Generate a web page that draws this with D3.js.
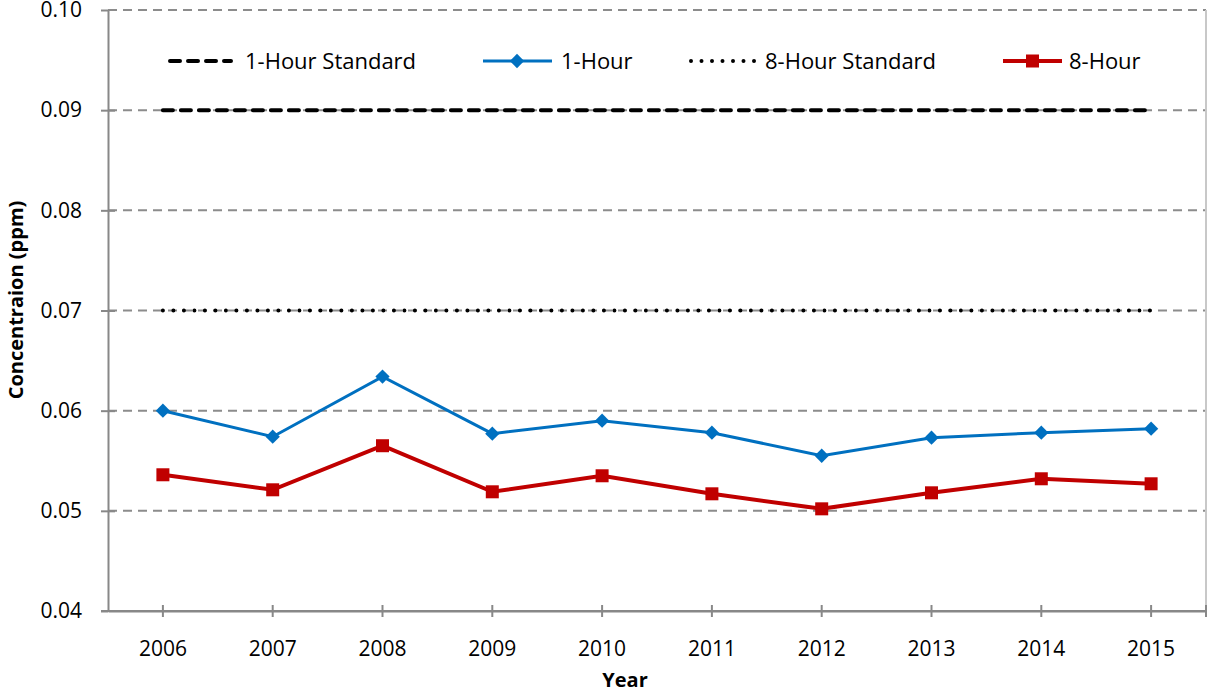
<!DOCTYPE html>
<html>
<head>
<meta charset="utf-8">
<script src="https://cdn.jsdelivr.net/npm/d3@7"></script>
<style>
  body { margin: 0; background: #fff; }
  text { font-family: "Open Sans", "Noto Sans", sans-serif; }
</style>
</head>
<body>
<script>
// chart data
let years = ['2006','2007','2008','2009','2010','2011','2012','2013','2014','2015']
let oneHour = [0.0600, 0.0574, 0.0634, 0.0577, 0.0590, 0.0578, 0.0555, 0.0573, 0.0578, 0.0582]
let eightHour = [0.0536, 0.0521, 0.0565, 0.0519, 0.0535, 0.0517, 0.0502, 0.0518, 0.0532, 0.0527]
let oneHourStd = 0.09
let eightHourStd = 0.07
let yTicks = [0.04, 0.05, 0.06, 0.07, 0.08, 0.09, 0.10]

function main(){
    let width = 1208
    let height = 690
    let margin = {top: 10, right: 2, bottom: 79, left: 108}

    let svg = d3.select('body').append('svg')
        .attr('width', width)
        .attr('height', height)

    let x = d3.scaleBand()
        .domain(years)
        .range([margin.left, width - margin.right])

    let y = d3.scaleLinear()
        .domain([0.04, 0.10])
        .range([height - margin.bottom, margin.top])

    let cx = d => x(d) + x.bandwidth()/2

    // gridlines
    svg.append('g')
        .selectAll('line')
        .data(yTicks.slice(1))
        .enter()
        .append('line')
        .attr('x1', margin.left)
        .attr('x2', width - margin.right)
        .attr('y1', d => y(d))
        .attr('y2', d => y(d))
        .attr('stroke', '#8c8c8c')
        .attr('stroke-width', 2)
        .attr('stroke-dasharray', '9,6')

    // right border
    svg.append('line')
        .attr('x1', width - margin.right).attr('x2', width - margin.right)
        .attr('y1', margin.top).attr('y2', height - margin.bottom)
        .attr('stroke', '#c8c8c8').attr('stroke-width', 2)

    // y axis
    let yAxis = svg.append('g')
        .attr('transform', 'translate(' + margin.left + ',0)')
        .call(d3.axisLeft(y).tickValues(yTicks).tickFormat(d3.format('.2f')).tickSizeInner(7).tickSizeOuter(0).tickPadding(19))
    yAxis.selectAll('text').attr('font-size', 21).attr('fill', '#000')
    yAxis.selectAll('line').attr('stroke', '#888').attr('stroke-width', 2).attr('x2', -7)
    yAxis.selectAll('.tick').filter(d => d !== 0.10 && d !== 0.04).select('line').attr('x2', 7).attr('x1', -7)
    yAxis.select('.domain').attr('stroke', '#888').attr('stroke-width', 2)

    // x axis
    let xAxis = svg.append('g')
        .attr('transform', 'translate(0,' + (height - margin.bottom) + ')')
        .call(d3.axisBottom(x).tickSizeInner(6).tickSizeOuter(0).tickPadding(24))
    xAxis.selectAll('text').attr('font-size', 21).attr('fill', '#000')
    xAxis.selectAll('.tick line').attr('stroke', '#888').attr('stroke-width', 2).attr('y1', -6)
    xAxis.select('.domain').attr('stroke', '#888').attr('stroke-width', 2)
    // axis extension to the left and tick at right edge
    xAxis.append('line')
        .attr('x1', margin.left - 7).attr('x2', width - margin.right)
        .attr('stroke', '#888').attr('stroke-width', 2)
    xAxis.append('line')
        .attr('x1', width - margin.right).attr('x2', width - margin.right)
        .attr('y1', -6).attr('y2', 6)
        .attr('stroke', '#888').attr('stroke-width', 2)

    // standards
    svg.append('line')
        .attr('x1', cx(years[0])).attr('x2', cx(years[years.length-1]))
        .attr('y1', y(oneHourStd)).attr('y2', y(oneHourStd))
        .attr('stroke', '#000').attr('stroke-width', 4)
        .attr('stroke-linecap', 'round')
        .attr('stroke-dasharray', '10,8')

    svg.append('line')
        .attr('x1', cx(years[0])).attr('x2', cx(years[years.length-1]))
        .attr('y1', y(eightHourStd)).attr('y2', y(eightHourStd))
        .attr('stroke', '#000').attr('stroke-width', 4)
        .attr('stroke-linecap', 'round')
        .attr('stroke-dasharray', '0,10.5')

    let line = d3.line()
        .x((d, i) => cx(years[i]))
        .y(d => y(d))

    // 1-hour series
    svg.append('path')
        .datum(oneHour)
        .attr('d', line)
        .attr('fill', 'none')
        .attr('stroke', '#0070C0')
        .attr('stroke-width', 3)

    svg.append('g')
        .selectAll('path')
        .data(oneHour)
        .enter()
        .append('path')
        .attr('d', d3.symbol(d3.symbolDiamond2, 130))
        .attr('transform', (d, i) => 'translate(' + cx(years[i]) + ',' + y(d) + ')')
        .attr('fill', '#0070C0')

    // 8-hour series
    svg.append('path')
        .datum(eightHour)
        .attr('d', line)
        .attr('fill', 'none')
        .attr('stroke', '#C00000')
        .attr('stroke-width', 4)

    svg.append('g')
        .selectAll('rect')
        .data(eightHour)
        .enter()
        .append('rect')
        .attr('x', (d, i) => cx(years[i]) - 6.5)
        .attr('y', d => y(d) - 6.5)
        .attr('width', 13)
        .attr('height', 13)
        .attr('fill', '#C00000')

    // legend
    let legY = 61
    let fs = 22
    let leg = svg.append('g')
    leg.append('line').attr('x1', 170).attr('x2', 231).attr('y1', legY).attr('y2', legY)
        .attr('stroke', '#000').attr('stroke-width', 4).attr('stroke-linecap', 'round').attr('stroke-dasharray', '10,8')
    leg.append('text').attr('x', 245).attr('y', legY + 8).attr('font-size', fs).text('1-Hour Standard')

    leg.append('line').attr('x1', 483).attr('x2', 552).attr('y1', legY).attr('y2', legY)
        .attr('stroke', '#0070C0').attr('stroke-width', 3)
    leg.append('path').attr('d', d3.symbol(d3.symbolDiamond2, 130))
        .attr('transform', 'translate(517,' + legY + ')').attr('fill', '#0070C0')
    leg.append('text').attr('x', 561).attr('y', legY + 8).attr('font-size', fs).text('1-Hour')

    leg.append('line').attr('x1', 691).attr('x2', 755).attr('y1', legY).attr('y2', legY)
        .attr('stroke', '#000').attr('stroke-width', 4).attr('stroke-linecap', 'round').attr('stroke-dasharray', '0,10.5')
    leg.append('text').attr('x', 765).attr('y', legY + 8).attr('font-size', fs).text('8-Hour Standard')

    leg.append('line').attr('x1', 1003).attr('x2', 1062).attr('y1', legY).attr('y2', legY)
        .attr('stroke', '#C00000').attr('stroke-width', 4)
    leg.append('rect').attr('x', 1026).attr('y', legY - 6.5).attr('width', 13).attr('height', 13).attr('fill', '#C00000')
    leg.append('text').attr('x', 1069).attr('y', legY + 8).attr('font-size', fs).text('8-Hour')

    // axis titles
    svg.append('text')
        .attr('transform', 'translate(23,300) rotate(-90)')
        .attr('text-anchor', 'middle')
        .attr('font-size', 20)
        .attr('font-weight', 'bold')
        .text('Concentraion (ppm)')

    svg.append('text')
        .attr('x', 625)
        .attr('y', 687)
        .attr('text-anchor', 'middle')
        .attr('font-size', 20)
        .attr('font-weight', 'bold')
        .text('Year')
}
main()
</script>
</body>
</html>
